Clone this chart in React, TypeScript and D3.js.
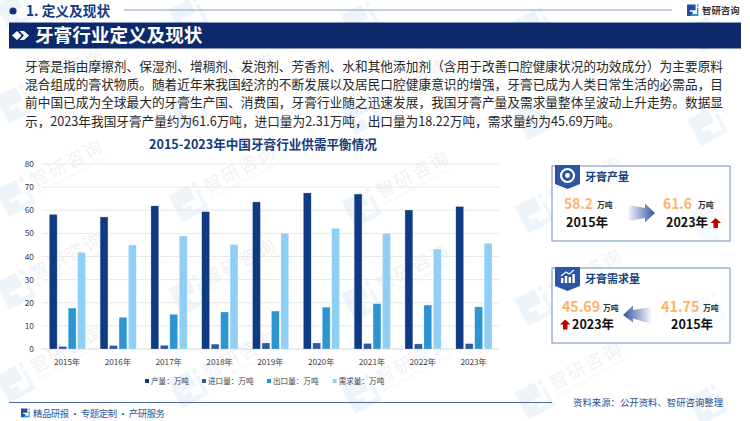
import React from "react";
import * as d3 from "d3";

const years = ["2015年", "2016年", "2017年", "2018年", "2019年", "2020年", "2021年", "2022年", "2023年"];
const production = [58.2, 57.1, 61.9, 59.4, 63.6, 67.5, 67.0, 60.1, 61.6];
const imports = [1.1, 1.5, 1.6, 2.1, 2.6, 2.6, 2.4, 2.2, 2.31];
const exportsQ = [17.7, 13.7, 15.0, 16.0, 16.4, 18.1, 19.6, 19.0, 18.22];
const demand = [41.75, 45.0, 48.9, 45.2, 50.1, 52.2, 50.0, 43.2, 45.69];
const seriesNames = ["产量：万吨", "进口量：万吨", "出口量：万吨", "需求量：万吨"];
const seriesColors = ["#0f3a84", "#2f55a4", "#2e95d3", "#90cff5"];
const yTicks = [0, 10, 20, 30, 40, 50, 60, 70, 80];
const bodyLines = [
  "牙膏是指由摩擦剂、保湿剂、增稠剂、发泡剂、芳香剂、水和其他添加剂（含用于改善口腔健康状况的功效成分）为主要原料",
  "混合组成的膏状物质。随着近年来我国经济的不断发展以及居民口腔健康意识的增强，牙膏已成为人类日常生活的必需品，目",
  "前中国已成为全球最大的牙膏生产国、消费国，牙膏行业随之迅速发展，我国牙膏产量及需求量整体呈波动上升走势。数据显",
  "示，2023年我国牙膏产量约为61.6万吨，进口量为2.31万吨，出口量为18.22万吨，需求量约为45.69万吨。",
];

const FONT = "'Noto Sans CJK SC', 'Noto Sans', sans-serif";
const NAVY = "#0c2a6b";
const ORANGE = "#fdb56a";

const Logo = ({ x, y, s, c1, c2 }: { x: number; y: number; s: number; c1: string; c2: string }) => (
  <g transform={`translate(${x},${y}) scale(${s})`}>
    <path d="M0 0H9V6H3V12H0Z M3 7.5H6V12H3Z" fill={c1} />
    <path d="M10.5 0H12V2H10.5Z M10.5 3.5H12V12H4V10H10.5Z" fill={c2} />
  </g>
);

const Watermark = ({ x, y, withText }: { x: number; y: number; withText: boolean }) => (
  <g transform={`translate(${x},${y}) rotate(-28)`}>
    <g transform="translate(-4,-13) scale(2.5)" opacity={0.08}>
      <path d="M0 0H9V6H3V12H0Z M3 7.5H6V12H3Z" fill="#2e7fc4" />
      <path d="M10.5 0H12V2H10.5Z M10.5 3.5H12V12H4V10H10.5Z" fill="#2e95d3" />
    </g>
    {withText && (
      <g opacity={0.075}>
        <text x={32} y={3} fontSize={18} fontFamily={FONT} fill="#44546a" letterSpacing={2}>智研咨询</text>
        <text x={32} y={11} fontSize={4.4} fontFamily="Roboto, sans-serif" fill="#44546a" letterSpacing={0.4}>INTELLIGENCE RESEARCH GROUP</text>
      </g>
    )}
  </g>
);

const wmRows = [14, 107, 200, 293, 386];
const wmCols = [5, 178, 351, 524, 697];

const Card = ({ y, title, kind }: { y: number; title: string; kind: "cycle" | "chart" }) => (
  <g>
    <rect x={552} y={y} width={178} height={75} fill="#fff" fillOpacity={0.55} stroke="#6f8cc6" strokeWidth={1} />
    <path d={`M555 ${y - 1}H580V${y + 18}L567.5 ${y + 23}L555 ${y + 18}Z`} fill="#2c56a4" />
    {kind === "cycle" ? (
      <g>
        <circle cx={567.5} cy={y + 9.5} r={6.5} fill="none" stroke="#fff" strokeWidth={2.2} />
        <circle cx={567.5} cy={y + 9.5} r={2.4} fill="#fff" />
      </g>
    ) : (
      <g>
        <rect x={561} y={y + 10} width={2.4} height={5} fill="#fff" />
        <rect x={564.8} y={y + 8} width={2.4} height={7} fill="#fff" />
        <rect x={568.6} y={y + 9} width={2.4} height={6} fill="#fff" />
        <rect x={572.4} y={y + 6} width={2.4} height={9} fill="#fff" />
        <path d={`M561 ${y + 8}L566 ${y + 4}L569 ${y + 6}L574 ${y + 2}`} fill="none" stroke="#fff" strokeWidth={1.1} />
      </g>
    )}
    <text x={585} y={y + 14.5} fontSize={11} fontWeight={700} fontFamily={FONT} fill="#14417f">{title}</text>
  </g>
);

const UpArrow = ({ x, y }: { x: number; y: number }) => (
  <path transform={`translate(${x},${y})`} d="M5.2 0L10.5 5H7.5V10H3V5H0Z" fill="#c00000" />
);

const Val = ({ x, y, v, ux, w }: { x: number; y: number; v: string; ux: number; w: number }) => (
  <g fontFamily={FONT}>
    <text x={x} y={y} fontSize={14.6} fontWeight={600} fill={ORANGE} textLength={w} lengthAdjust="spacingAndGlyphs">{v}</text>
    <text x={ux} y={y - 1} fontSize={7.8} fontWeight={700} fill="#333">万吨</text>
  </g>
);

const Year = ({ x, y, t }: { x: number; y: number; t: string }) => (
  <text x={x} y={y} fontSize={12.5} fontWeight={700} fontFamily={FONT} fill="#111">{t}</text>
);

export default function App() {
  const x0 = d3.scaleBand<string>().domain(years).range([41.7, 499]);
  const x1 = d3.scaleBand<number>().domain([0, 1, 2, 3]).range([7.6, 43.8]).paddingInner(0.17).paddingOuter(0);
  const y = d3.scaleLinear().domain([0, 80]).range([349, 164]);
  const series = [production, imports, exportsQ, demand];
  const legendX = [145, 202, 267, 332.7];

  return (
    <svg width={750} height={421} viewBox="0 0 750 421" style={{ position: "absolute", left: 0, top: 0, background: "#fff" }}>
      <defs>
        <linearGradient id="gr" x1="0" x2="1" y1="0" y2="0">
          <stop offset="0" stopColor="#2f56a0" stopOpacity={0.05} />
          <stop offset="1" stopColor="#2f56a0" />
        </linearGradient>
        <linearGradient id="gl" x1="1" x2="0" y1="0" y2="0">
          <stop offset="0" stopColor="#2f56a0" stopOpacity={0.05} />
          <stop offset="1" stopColor="#2f56a0" />
        </linearGradient>
      </defs>

      {wmRows.map((ry, i) => wmCols.map((cx, j) => (
        <Watermark key={`${i}-${j}`} x={cx} y={ry + j * 5.5} withText={i > 0 && j < 4} />
      )))}

      {/* header */}
      <circle cx={13} cy={11} r={3.6} fill="#12357a" />
      <text x={26} y={16} fontSize={13.7} fontWeight={700} fontFamily={FONT} fill="#14397c">1. 定义及现状</text>
      <line x1={124} x2={672} y1={10} y2={10} stroke="#8c9fc8" strokeWidth={1} />
      <Logo x={687} y={4.5} s={0.95} c1="#1f4fa0" c2="#2e95d3" />
      <text x={702} y={14} fontSize={9.4} fontWeight={700} fontFamily={FONT} fill="#333">智研咨询</text>
      <rect x={9} y={22.5} width={732} height={26} fill={NAVY} />
      <path d="M12 35.5L17 31L21.5 35.5L17 40Z M19.5 31H24L29 35.5L24 40H19.5L24 35.5Z" fill="#fff" />
      <text x={35} y={41.5} fontSize={18.6} fontWeight={700} fontFamily={FONT} fill="#fff">牙膏行业定义及现状</text>

      {/* body */}
      {bodyLines.map((t, i) => (
        <text key={i} x={25} y={70.5 + i * 18.4} fontSize={12.65} fontFamily={FONT} fill="#262626"
          {...(i < 3 ? { textLength: 698, lengthAdjust: "spacing" } : {})}>{t}</text>
      ))}

      {/* chart */}
      <text x={263} y={149} textAnchor="middle" fontSize={12.6} fontWeight={700} fontFamily={FONT} fill="#14397c">2015-2023年中国牙膏行业供需平衡情况</text>
      {yTicks.map((t) => (
        <g key={t}>
          <line x1={41.7} x2={499} y1={y(t)} y2={y(t)} stroke={t === 0 ? "#d9d9d9" : "#e8e8e8"} strokeWidth={1} />
          <text x={34} y={y(t) + 3} textAnchor="end" fontSize={8.4} fontFamily={FONT} fill="#404040">{t}</text>
        </g>
      ))}
      {years.map((yr, i) => (
        <g key={yr} transform={`translate(${x0(yr)},0)`}>
          {series.map((s, k) => (
            <rect key={k} x={x1(k)} y={y(s[i])} width={x1.bandwidth()} height={349 - y(s[i])} fill={seriesColors[k]} stroke="#fff" strokeOpacity={0.5} strokeWidth={0.5} />
          ))}
          <text x={x0.bandwidth() / 2} y={365} textAnchor="middle" fontSize={8.2} fontFamily={FONT} fill="#404040">{yr}</text>
        </g>
      ))}
      {seriesNames.map((n, k) => (
        <g key={n}>
          <rect x={legendX[k]} y={379} width={4} height={4} fill={seriesColors[k]} />
          <text x={legendX[k] + 6} y={384} fontSize={7.6} fontFamily={FONT} fill="#404040">{n}</text>
        </g>
      ))}

      {/* cards */}
      <Card y={166} title="牙膏产量" kind="cycle" />
      <Val x={564} y={209} v="58.2" ux={597} w={29} />
      <Year x={566} y={227} t="2015年" />
      <path d="M628 205L645 208V203.5L655 213L645 222.5V218L628 221Z" fill="url(#gr)" />
      <Val x={663} y={209} v="61.6" ux={698} w={29} />
      <Year x={666} y={227} t="2023年" />
      <UpArrow x={710.5} y={218} />

      <Card y={268} title="牙膏需求量" kind="chart" />
      <Val x={562} y={312} v="45.69" ux={603} w={38} />
      <UpArrow x={560} y={319.5} />
      <Year x={572} y={329} t="2023年" />
      <path d="M651 307L633 310V305.5L623 315L633 322.5V318.5L651 324Z" fill="url(#gl)" />
      <Val x={661} y={312} v="41.75" ux={703} w={38.5} />
      <Year x={671} y={329} t="2015年" />

      {/* footer */}
      <line x1={9} x2={552} y1={402.5} y2={402.5} stroke="#4c68a8" strokeWidth={1} />
      <Logo x={21} y={408.5} s={0.72} c1="#1f4fa0" c2="#2e95d3" />
      <text x={33} y={417} fontSize={9.4} fontFamily={FONT} fill="#2c5a9a" textLength={132} lengthAdjust="spacing">精品研报 · 专题定制 · 产研服务</text>
      <text x={573} y={405.5} fontSize={9.4} fontFamily={FONT} fill="#2a4f8f">资料来源：公开资料、智研咨询整理</text>
    </svg>
  );
}
